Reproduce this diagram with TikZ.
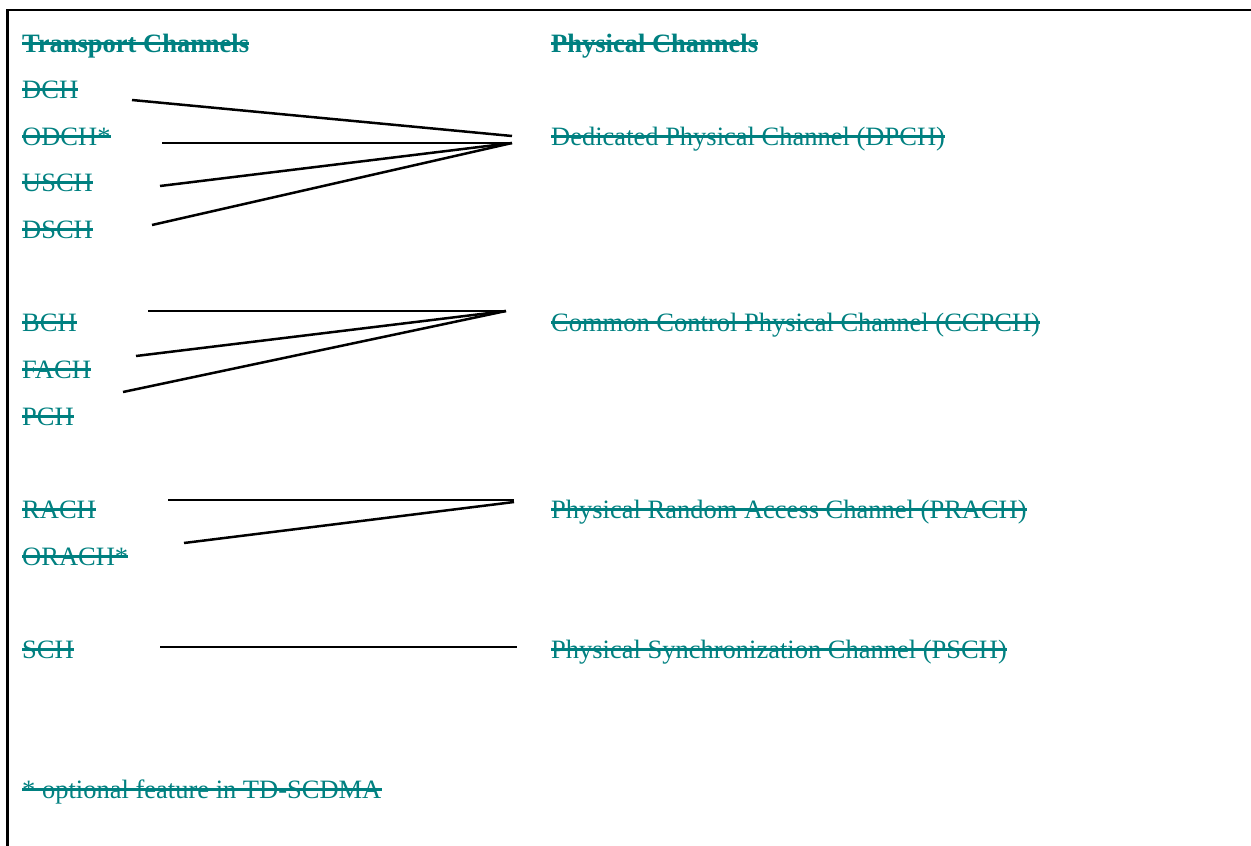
\documentclass[tikz,border=0pt]{standalone}
\usepackage{fontspec}
\setmainfont{Liberation Serif}
\definecolor{chanteal}{RGB}{0,128,128}
\begin{document}
\begin{tikzpicture}[x=1pt,y=-1pt,
  chan/.style={anchor=base west,inner sep=0pt,text=chanteal,
    font=\fontsize{26.5}{30}\selectfont},
  head/.style={chan,font=\fontsize{26.5}{30}\selectfont\bfseries},
  strikeline/.style={draw=chanteal,line width=2.3pt},
  link/.style={draw=black,line width=2.5pt}]
\useasboundingbox (0,0) rectangle (1251,846);
% frame: top and left edges only
\draw[line width=2.6pt] (7.5,846) -- (7.5,10) -- (1251,10);

% column headings
\node[head] (thead) at (22,52) {Transport Channels};
\node[head] (phead) at (551,52) {Physical Channels};

% transport channels
\node[chan] (dch)   at (22,98)  {DCH};
\node[chan] (odch)  at (22,145) {ODCH*};
\node[chan] (usch)  at (22,191) {USCH};
\node[chan] (dsch)  at (22,238) {DSCH};
\node[chan] (bch)   at (22,331) {BCH};
\node[chan] (fach)  at (22,378) {FACH};
\node[chan] (pch)   at (22,425) {PCH};
\node[chan] (rach)  at (22,518) {RACH};
\node[chan] (orach) at (22,565) {ORACH*};
\node[chan] (sch)   at (22,658) {SCH};

% physical channels
\node[chan] (dpch)  at (551,145) {Dedicated Physical Channel (DPCH)};
\node[chan] (ccpch) at (551,331) {Common Control Physical Channel (CCPCH)};
\node[chan] (prach) at (551,518) {Physical Random Access Channel (PRACH)};
\node[chan] (psch)  at (551,658) {Physical Synchronization Channel (PSCH)};

% footnote
\node[chan] (note) at (22,798) {* optional feature in TD-SCDMA};

% struck-through text
\foreach \n in {thead,phead,dch,odch,usch,dsch,bch,fach,pch,rach,orach,sch,
                dpch,ccpch,prach,psch,note}
  \draw[strikeline] ([yshift=8.5pt]\n.base west) -- ([yshift=8.5pt]\n.base east);

% connector end points
\coordinate (dch-e)   at (132,100);
\coordinate (odch-e)  at (162,143);
\coordinate (usch-e)  at (160,186);
\coordinate (dsch-e)  at (152,225);
\coordinate (dpch-a)  at (512,136);
\coordinate (dpch-b)  at (512,143);
\coordinate (bch-e)   at (148,311);
\coordinate (fach-e)  at (136,356);
\coordinate (pch-e)   at (123,392);
\coordinate (ccpch-e) at (506,311);
\coordinate (rach-e)  at (168,500);
\coordinate (orach-e) at (184,543);
\coordinate (prach-a) at (514,500);
\coordinate (prach-b) at (514,502);
\coordinate (sch-e)   at (160,647);
\coordinate (psch-e)  at (517,647);

% mappings
\draw[link] (dch-e) -- (dpch-a);
\draw[link] (odch-e) -- (dpch-b);
\draw[link] (usch-e) -- (dpch-b);
\draw[link] (dsch-e) -- (dpch-b);
\draw[link] (bch-e) -- (ccpch-e);
\draw[link] (fach-e) -- (ccpch-e);
\draw[link] (pch-e) -- (ccpch-e);
\draw[link] (rach-e) -- (prach-a);
\draw[link] (orach-e) -- (prach-b);
\draw[link] (sch-e) -- (psch-e);
\end{tikzpicture}
\end{document}
